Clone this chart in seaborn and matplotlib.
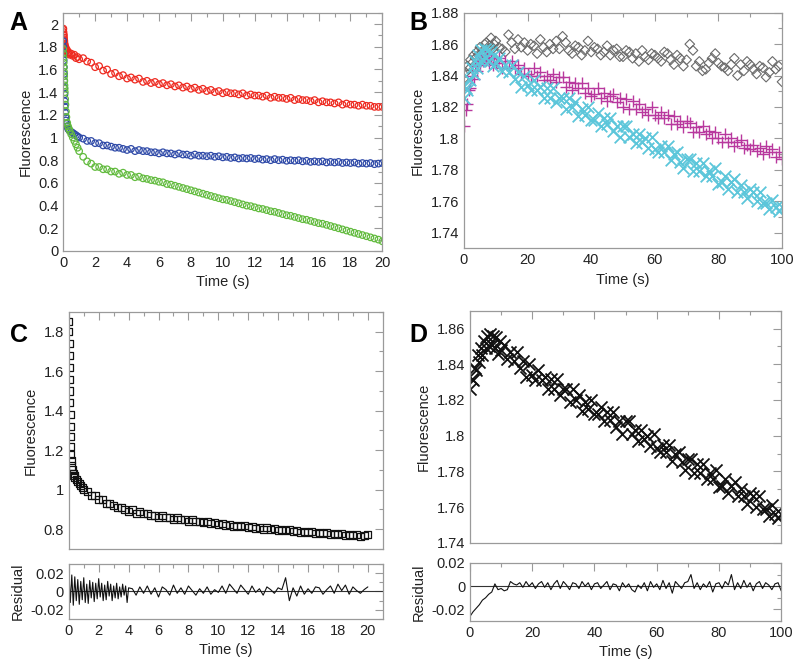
import matplotlib
matplotlib.use("Agg")
import matplotlib.pyplot as plt
from matplotlib.ticker import MultipleLocator
import seaborn as sns

sns.set_style("white")
plt.rcParams['font.family'] = ['Liberation Sans', 'DejaVu Sans']

# Panel A: time (s) and fluorescence of three traces
t_a = [0, 0.01, 0.02, 0.03, 0.04, 0.05, 0.06, 0.07, 0.08, 0.09, 0.10, 0.12, 0.14,
       0.17, 0.2, 0.25, 0.3, 0.35, 0.4, 0.5, 0.6, 0.7, 0.8, 0.9, 1.0,
       1.25, 1.5, 1.75, 2.0, 2.25, 2.5, 2.75, 3.0, 3.25, 3.5, 3.75, 4.0,
       4.25, 4.5, 4.75, 5.0, 5.25, 5.5, 5.75, 6.0, 6.25, 6.5, 6.75, 7.0,
       7.25, 7.5, 7.75, 8.0, 8.25, 8.5, 8.75, 9.0, 9.25, 9.5, 9.75, 10.0,
       10.25, 10.5, 10.75, 11.0, 11.25, 11.5, 11.75, 12.0, 12.25, 12.5, 12.75, 13.0,
       13.25, 13.5, 13.75, 14.0, 14.25, 14.5, 14.75, 15.0, 15.25, 15.5, 15.75, 16.0,
       16.25, 16.5, 16.75, 17.0, 17.25, 17.5, 17.75, 18.0, 18.25, 18.5, 18.75, 19.0,
       19.25, 19.5, 19.75, 20.0]
red_a = [1.95, 1.96, 1.93, 1.91, 1.90, 1.88, 1.86, 1.85, 1.83, 1.82, 1.81, 1.80, 1.78,
         1.79, 1.76, 1.77, 1.74, 1.75, 1.73, 1.74, 1.72, 1.73, 1.70, 1.71, 1.69,
         1.70, 1.67, 1.66, 1.62, 1.63, 1.59, 1.60, 1.56, 1.57, 1.54, 1.55, 1.52,
         1.53, 1.51, 1.52, 1.49, 1.50, 1.48, 1.49, 1.47, 1.48, 1.46, 1.47, 1.45,
         1.46, 1.44, 1.45, 1.43, 1.44, 1.42, 1.43, 1.41, 1.42, 1.40, 1.41, 1.39,
         1.40, 1.39, 1.39, 1.38, 1.39, 1.37, 1.38, 1.37, 1.37, 1.36, 1.37, 1.35,
         1.36, 1.35, 1.35, 1.34, 1.35, 1.33, 1.34, 1.33, 1.33, 1.32, 1.33, 1.31,
         1.32, 1.31, 1.31, 1.30, 1.31, 1.29, 1.30, 1.29, 1.29, 1.28, 1.29, 1.28,
         1.28, 1.27, 1.27, 1.27]
blue_a = [1.85, 1.80, 1.74, 1.68, 1.62, 1.56, 1.50, 1.44, 1.38, 1.32, 1.27, 1.22, 1.18,
          1.15, 1.12, 1.10, 1.08, 1.07, 1.06, 1.05, 1.04, 1.03, 1.02, 1.01, 1.00,
          0.99, 0.97, 0.97, 0.95, 0.95, 0.93, 0.93, 0.92, 0.91, 0.91, 0.90, 0.89,
          0.90, 0.88, 0.89, 0.88, 0.88, 0.87, 0.87, 0.86, 0.87, 0.86, 0.86, 0.85,
          0.86, 0.85, 0.85, 0.84, 0.85, 0.84, 0.84, 0.835, 0.84, 0.83, 0.835, 0.825,
          0.83, 0.82, 0.825, 0.815, 0.82, 0.815, 0.82, 0.81, 0.815, 0.805, 0.81, 0.80,
          0.81, 0.80, 0.805, 0.795, 0.80, 0.795, 0.80, 0.79, 0.795, 0.785, 0.79, 0.785,
          0.79, 0.78, 0.785, 0.78, 0.785, 0.775, 0.78, 0.775, 0.78, 0.77, 0.775, 0.77,
          0.775, 0.765, 0.77, 0.775]
green_a = [1.78, 1.74, 1.70, 1.66, 1.62, 1.58, 1.54, 1.50, 1.46, 1.43, 1.40, 1.34, 1.29,
           1.23, 1.18, 1.13, 1.10, 1.08, 1.06, 1.03, 1.00, 0.97, 0.94, 0.91, 0.88,
           0.83, 0.79, 0.77, 0.74, 0.74, 0.72, 0.72, 0.70, 0.70, 0.68, 0.69, 0.67,
           0.67, 0.65, 0.655, 0.64, 0.635, 0.625, 0.62, 0.61, 0.605, 0.59, 0.585, 0.575,
           0.565, 0.555, 0.545, 0.535, 0.525, 0.515, 0.505, 0.495, 0.485, 0.475, 0.465, 0.455,
           0.45, 0.44, 0.43, 0.42, 0.41, 0.40, 0.395, 0.385, 0.375, 0.37, 0.36, 0.35,
           0.345, 0.335, 0.325, 0.315, 0.31, 0.30, 0.29, 0.28, 0.275, 0.265, 0.255, 0.245,
           0.24, 0.23, 0.22, 0.21, 0.20, 0.19, 0.18, 0.17, 0.16, 0.15, 0.14, 0.13,
           0.12, 0.11, 0.10, 0.085]

# Panel B: time (s) and fluorescence of three traces
t_b = [0, 0.5, 1, 1.5, 2, 2.5, 3, 3.5, 4, 4.5, 5, 5.5, 6, 6.5, 7, 7.5, 8, 8.5, 9, 9.5, 10,
       11, 12, 13, 14, 15, 16, 17, 18, 19, 20,
       21, 22, 23, 24, 25, 26, 27, 28, 29, 30,
       31, 32, 33, 34, 35, 36, 37, 38, 39, 40,
       41, 42, 43, 44, 45, 46, 47, 48, 49, 50,
       51, 52, 53, 54, 55, 56, 57, 58, 59, 60,
       61, 62, 63, 64, 65, 66, 67, 68, 69, 70,
       71, 72, 73, 74, 75, 76, 77, 78, 79, 80,
       81, 82, 83, 84, 85, 86, 87, 88, 89, 90,
       91, 92, 93, 94, 95, 96, 97, 98, 99, 100]
gray_b = [1.838, 1.842, 1.846, 1.844, 1.850, 1.848, 1.853, 1.851, 1.855, 1.853, 1.858,
          1.854, 1.856, 1.860, 1.861, 1.857, 1.859, 1.864, 1.857, 1.860, 1.862,
          1.858, 1.857, 1.855, 1.866, 1.861, 1.857, 1.863, 1.858, 1.861, 1.856,
          1.860, 1.859, 1.854, 1.863, 1.858, 1.855, 1.860, 1.857, 1.862, 1.857,
          1.865, 1.861, 1.856, 1.854, 1.859, 1.858, 1.853, 1.856, 1.862, 1.855,
          1.858, 1.857, 1.853, 1.855, 1.859, 1.853, 1.856, 1.857, 1.852, 1.852,
          1.856, 1.855, 1.851, 1.854, 1.849, 1.856, 1.852, 1.850, 1.854, 1.853,
          1.851, 1.849, 1.855, 1.854, 1.850, 1.847, 1.853, 1.851, 1.846, 1.850,
          1.860, 1.856, 1.846, 1.849, 1.843, 1.844, 1.848, 1.851, 1.854, 1.848,
          1.846, 1.845, 1.843, 1.847, 1.851, 1.840, 1.847, 1.843, 1.849, 1.847,
          1.844, 1.841, 1.846, 1.845, 1.839, 1.842, 1.849, 1.844, 1.846, 1.836]
magenta_b = [1.808, 1.818, 1.822, 1.831, 1.832, 1.840, 1.838, 1.846, 1.843, 1.850, 1.847,
             1.853, 1.849, 1.854, 1.850, 1.853, 1.848, 1.852, 1.847, 1.851, 1.848,
             1.851, 1.845, 1.849, 1.845, 1.849, 1.845, 1.847, 1.841, 1.845, 1.841,
             1.840, 1.845, 1.840, 1.842, 1.837, 1.840, 1.837, 1.841, 1.836, 1.839,
             1.839, 1.833, 1.836, 1.831, 1.835, 1.832, 1.835, 1.829, 1.832, 1.827,
             1.828, 1.832, 1.826, 1.829, 1.824, 1.827, 1.828, 1.823, 1.826, 1.820,
             1.825, 1.819, 1.824, 1.819, 1.822, 1.817, 1.819, 1.815, 1.820, 1.815,
             1.813, 1.817, 1.813, 1.815, 1.809, 1.814, 1.809, 1.811, 1.807, 1.811,
             1.810, 1.804, 1.807, 1.804, 1.808, 1.803, 1.805, 1.800, 1.804, 1.800,
             1.798, 1.803, 1.798, 1.800, 1.795, 1.798, 1.799, 1.794, 1.796, 1.793,
             1.796, 1.792, 1.794, 1.790, 1.795, 1.791, 1.793, 1.788, 1.791, 1.787]
cyan_b = [1.826, 1.832, 1.831, 1.838, 1.837, 1.845, 1.841, 1.849, 1.845, 1.853, 1.849,
          1.856, 1.850, 1.857, 1.851, 1.856, 1.849, 1.855, 1.846, 1.853, 1.848,
          1.851, 1.843, 1.847, 1.842, 1.847, 1.838, 1.842, 1.833, 1.840, 1.834,
          1.831, 1.837, 1.831, 1.833, 1.826, 1.832, 1.826, 1.832, 1.823, 1.826,
          1.826, 1.819, 1.826, 1.820, 1.823, 1.814, 1.819, 1.815, 1.820, 1.812,
          1.812, 1.816, 1.808, 1.813, 1.809, 1.813, 1.805, 1.808, 1.801, 1.808,
          1.808, 1.801, 1.803, 1.797, 1.803, 1.798, 1.800, 1.794, 1.801, 1.793,
          1.791, 1.795, 1.791, 1.795, 1.786, 1.790, 1.791, 1.785, 1.781, 1.787,
          1.787, 1.779, 1.784, 1.779, 1.784, 1.776, 1.779, 1.776, 1.781, 1.771,
          1.772, 1.776, 1.768, 1.772, 1.774, 1.766, 1.770, 1.766, 1.762, 1.768,
          1.766, 1.760, 1.766, 1.759, 1.759, 1.755, 1.761, 1.756, 1.754, 1.756]

# Panel C residuals
t_res_c = [0.0, 0.1, 0.2, 0.3, 0.4, 0.5, 0.6, 0.7, 0.8, 0.9,
           1.0, 1.1, 1.2, 1.3, 1.4, 1.5, 1.6, 1.7, 1.8, 1.9,
           2.0, 2.1, 2.2, 2.3, 2.4, 2.5, 2.6, 2.7, 2.8, 2.9,
           3.0, 3.1, 3.2, 3.3, 3.4, 3.5, 3.6, 3.7, 3.8, 3.9,
           4.0,
           4.25, 4.5, 4.75, 5.0, 5.25, 5.5, 5.75, 6.0, 6.25, 6.5,
           6.75, 7.0, 7.25, 7.5, 7.75, 8.0, 8.25, 8.5, 8.75, 9.0,
           9.25, 9.5, 9.75, 10.0, 10.25, 10.5, 10.75, 11.0, 11.25, 11.5,
           11.75, 12.0, 12.25, 12.5, 12.75, 13.0, 13.25, 13.5, 13.75, 14.0,
           14.25, 14.5, 14.75, 15.0, 15.25, 15.5, 15.75, 16.0, 16.25, 16.5,
           16.75, 17.0, 17.25, 17.5, 17.75, 18.0, 18.25, 18.5, 18.75, 19.0,
           19.25, 19.5, 19.75, 20.0]
res_c = [0.024, -0.012, 0.018, -0.015, 0.016, -0.010, 0.013, -0.014, 0.011, -0.009,
         0.015, -0.012, 0.008, -0.013, 0.012, -0.007, 0.010, -0.011, 0.009, -0.008,
         0.014, -0.006, 0.009, -0.010, 0.007, -0.009, 0.011, -0.005, 0.008, -0.010,
         0.006, -0.007, 0.009, -0.008, 0.005, -0.006, 0.008, -0.004, 0.006, -0.012,
         0.004,
         0.003, -0.004, 0.005, -0.002, 0.006, -0.003, 0.004, -0.006, 0.005, 0.002,
         -0.004, 0.007, -0.002, 0.004, -0.003, 0.006, 0.001, -0.004, 0.003, -0.002,
         0.005, -0.003, 0.002, -0.001, 0.006, -0.002, 0.008, 0.003, -0.002, 0.007,
         0.002, -0.003, 0.006, -0.001, 0.003, -0.004, 0.005, 0.002, -0.002, 0.004,
         0.002, 0.015, -0.010, 0.004, -0.005, 0.006, -0.003, 0.003, -0.002, 0.005,
         0.004, -0.003, 0.002, 0.006, -0.002, 0.008, 0.001, 0.007, -0.003, 0.005,
         0.001, -0.002, 0.002, 0.005]

# Panel D residuals
t_res_d = [0, 1, 2, 3, 4, 5, 6, 7, 8, 9, 10, 11, 12, 13, 14, 15, 16, 17, 18, 19,
           20, 21, 22, 23, 24, 25, 26, 27, 28, 29, 30, 31, 32, 33, 34, 35, 36, 37, 38, 39,
           40, 41, 42, 43, 44, 45, 46, 47, 48, 49, 50, 51, 52, 53, 54, 55, 56, 57, 58, 59,
           60, 61, 62, 63, 64, 65, 66, 67, 68, 69, 70, 71, 72, 73, 74, 75, 76, 77, 78, 79,
           80, 81, 82, 83, 84, 85, 86, 87, 88, 89, 90, 91, 92, 93, 94, 95, 96, 97, 98, 99,
           100]
res_d = [-0.026, -0.022, -0.019, -0.016, -0.012, -0.010, -0.007, -0.005, 0.002, -0.003,
         -0.002, -0.004, -0.003, 0.004, 0.002, 0.001, 0.003, -0.001, 0.004, 0.000,
         0.003, -0.002, 0.002, 0.004, -0.001, 0.003, -0.003, 0.002, 0.005, -0.002,
         0.004, 0.001, -0.003, 0.003, 0.002, -0.002, 0.004, 0.000, 0.003, -0.003,
         0.002, 0.003, -0.002, 0.001, 0.004, -0.003, 0.002, 0.001, -0.004, 0.003,
         -0.001, 0.002, -0.003, -0.005, 0.001, -0.002, 0.003, -0.004, 0.004, -0.001,
         0.002, -0.003, 0.005, -0.002, 0.003, -0.006, 0.004, 0.001, -0.002, 0.003,
         0.004, 0.010, -0.002, 0.003, -0.003, 0.002, -0.001, 0.004, -0.005, 0.002,
         0.003, -0.002, 0.004, 0.001, 0.010, -0.003, 0.003, -0.002, 0.005, -0.001,
         0.003, -0.004, 0.002, 0.004, -0.002, 0.003, 0.001, -0.003, 0.002, 0.003,
         -0.004]

FRAME = '#9a9a9a'
TXT = '#222222'


def style(ax, xmaj, xmin, ymaj, ymin, xlim, ylim, xlabels=True):
    ax.set_xlim(*xlim)
    ax.set_ylim(*ylim)
    ax.xaxis.set_major_locator(MultipleLocator(xmaj))
    ax.xaxis.set_minor_locator(MultipleLocator(xmin))
    ax.yaxis.set_major_locator(MultipleLocator(ymaj))
    ax.yaxis.set_minor_locator(MultipleLocator(ymin))
    ax.yaxis.set_major_formatter(plt.FuncFormatter(lambda v, p: '%g' % round(v, 3)))
    for s in ax.spines.values():
        s.set_color(FRAME)
        s.set_linewidth(0.9)
        s.set_visible(True)
    ax.tick_params(which='both', direction='in', top=True, right=True,
                   color=FRAME, width=0.8, labelcolor=TXT, labelsize=10.5)
    ax.tick_params(which='major', length=6)
    ax.tick_params(which='minor', length=3)
    if not xlabels:
        ax.tick_params(axis='x', labelbottom=False)
    ax.set_xlabel('')
    ax.set_ylabel('')


fig = plt.figure(figsize=(8, 6.71), dpi=100)

# ---- A ----
axA = fig.add_axes([0.079, 0.626, 0.399, 0.355])
for y, c in [(red_a, '#ee2a20'), (blue_a, '#2f4aa8'), (green_a, '#62bb3e')]:
    sns.scatterplot(x=t_a, y=y, ax=axA, marker='o', s=22, fc='none', ec=c, linewidth=0.9)
style(axA, 2, 1, 0.2, 0.1, (0, 20), (0, 2.1))
axA.set_xlabel('Time (s)', fontsize=10.5, color=TXT)
axA.set_ylabel('Fluorescence', fontsize=10.5, color=TXT)

# ---- B ----
axB = fig.add_axes([0.580, 0.630, 0.3975, 0.351])
sns.scatterplot(x=t_b, y=gray_b, ax=axB, marker='D', s=24, fc='none', ec='#6a6a6a', linewidth=0.8)
sns.scatterplot(x=t_b, y=magenta_b, ax=axB, marker='+', s=75, color='#b8389e', linewidth=1.0)
sns.scatterplot(x=t_b, y=cyan_b, ax=axB, marker='x', s=70, color='#5cc6da', linewidth=1.3)
style(axB, 20, 10, 0.02, 0.01, (0, 100), (1.73, 1.88))
axB.set_xlabel('Time (s)', fontsize=10.5, color=TXT)
axB.set_ylabel('Fluorescence', fontsize=10.5, color=TXT)

# ---- C ----
axC = fig.add_axes([0.086, 0.182, 0.3925, 0.353])
sns.scatterplot(x=t_a, y=blue_a, ax=axC, marker='s', s=26, fc='none', ec='#111111', linewidth=0.9)
style(axC, 2, 1, 0.2, 0.1, (0, 21), (0.7, 1.9), xlabels=False)
axC.set_ylabel('Fluorescence', fontsize=10.5, color=TXT)

axCr = fig.add_axes([0.086, 0.0775, 0.3925, 0.082])
axCr.axhline(0, color='#333333', lw=0.8)
sns.lineplot(x=t_res_c, y=res_c, ax=axCr, color='#111111', lw=0.8)
style(axCr, 2, 1, 0.02, 0.01, (0, 21), (-0.03, 0.03))
axCr.set_xlabel('Time (s)', fontsize=10.5, color=TXT)
axCr.set_ylabel('Residual', fontsize=10.5, color=TXT)

# ---- D ----
axD = fig.add_axes([0.5875, 0.191, 0.389, 0.346])
sns.scatterplot(x=t_b, y=cyan_b, ax=axD, marker='x', s=75, color='#111111', linewidth=1.3)
style(axD, 20, 10, 0.02, 0.01, (0, 100), (1.74, 1.87), xlabels=False)
axD.set_ylabel('Fluorescence', fontsize=10.5, color=TXT)

axDr = fig.add_axes([0.5875, 0.0745, 0.389, 0.0865])
axDr.axhline(0, color='#333333', lw=0.8)
sns.lineplot(x=t_res_d, y=res_d, ax=axDr, color='#111111', lw=0.8)
style(axDr, 20, 10, 0.02, 0.01, (0, 100), (-0.03, 0.02))
axDr.set_xlabel('Time (s)', fontsize=10.5, color=TXT)
axDr.set_ylabel('Residual', fontsize=10.5, color=TXT)

for lbl, x, y in [('A', 0.012, 0.955), ('B', 0.512, 0.955), ('C', 0.012, 0.49), ('D', 0.512, 0.49)]:
    fig.text(x, y, lbl, fontsize=18, fontweight='bold', color='black')

fig.savefig('out.png', dpi=100)
